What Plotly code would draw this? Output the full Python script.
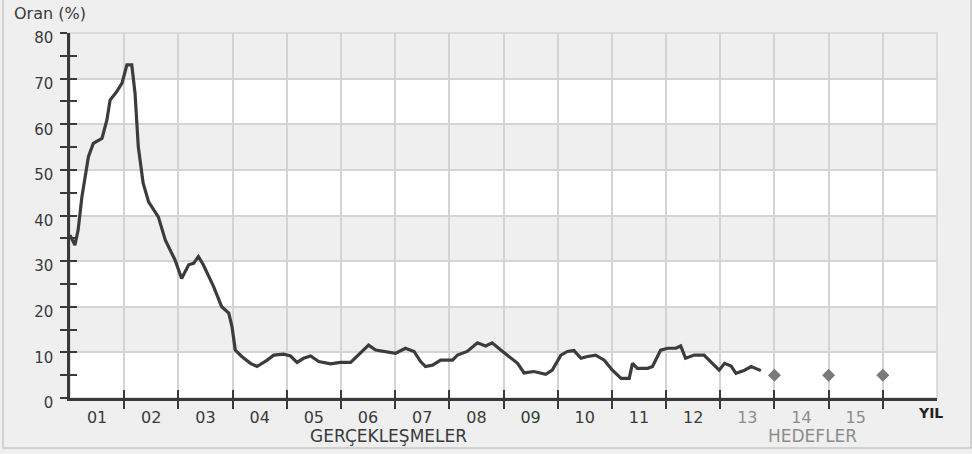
import plotly.graph_objects as go

# Realised annual inflation (decimal year, %)
years = [2001.00, 2001.09, 2001.15, 2001.22, 2001.28, 2001.34, 2001.43, 2001.59, 2001.68, 2001.74,
         2001.86, 2001.96, 2002.05, 2002.14, 2002.20, 2002.26, 2002.35, 2002.45, 2002.63, 2002.76,
         2002.94, 2003.06, 2003.19, 2003.28, 2003.37, 2003.46, 2003.65, 2003.80, 2003.93, 2003.99,
         2004.05, 2004.17, 2004.33, 2004.45, 2004.64, 2004.76, 2004.94, 2005.07, 2005.19, 2005.31,
         2005.44, 2005.59, 2005.81, 2005.99, 2006.18, 2006.36, 2006.51, 2006.64, 2006.79, 2007.01,
         2007.19, 2007.35, 2007.47, 2007.56, 2007.69, 2007.84, 2008.06, 2008.15, 2008.33, 2008.52,
         2008.67, 2008.79, 2008.95, 2009.13, 2009.26, 2009.38, 2009.56, 2009.78, 2009.90, 2010.06,
         2010.18, 2010.30, 2010.43, 2010.55, 2010.70, 2010.86, 2011.01, 2011.17, 2011.32, 2011.38,
         2011.47, 2011.66, 2011.75, 2011.90, 2012.03, 2012.18, 2012.27, 2012.36, 2012.52, 2012.70,
         2012.86, 2012.98, 2013.08, 2013.20, 2013.29, 2013.45, 2013.57, 2013.75]
rates = [35.7, 33.5, 36.8, 44.1, 48.5, 52.9, 55.8, 56.9, 60.9, 65.3,
         67.1, 69.0, 73.0, 73.0, 66.8, 55.1, 47.1, 43.0, 39.7, 34.6,
         30.2, 26.2, 29.2, 29.5, 31.0, 29.2, 24.4, 20.0, 18.6, 15.6,
         10.5, 9.1, 7.6, 6.9, 8.3, 9.4, 9.6, 9.2, 7.8, 8.7,
         9.2, 8.0, 7.5, 7.8, 7.8, 9.8, 11.6, 10.5, 10.2, 9.8,
         10.9, 10.2, 8.0, 6.9, 7.2, 8.3, 8.3, 9.4, 10.2, 12.1,
         11.4, 12.1, 10.5, 8.7, 7.6, 5.5, 5.8, 5.2, 6.1, 9.4,
         10.2, 10.4, 8.7, 9.1, 9.4, 8.3, 6.1, 4.3, 4.3, 7.6,
         6.5, 6.5, 6.9, 10.5, 10.9, 10.9, 11.4, 8.7, 9.4, 9.4,
         7.6, 6.1, 7.6, 7.0, 5.4, 6.1, 6.9, 6.0]

# Year-end targets
target_years = [2014.0, 2015.0, 2016.0]
target_rates = [5.0, 5.0, 5.0]

# Axis labels
year_labels = ["01", "02", "03", "04", "05", "06", "07", "08", "09", "10", "11", "12", "13", "14", "15"]
target_labels = ["13", "14", "15"]
y_ticks = [0, 10, 20, 30, 40, 50, 60, 70, 80]

FONT = "DejaVu Sans"
DARK = "#3a3a3a"
GRAY_TXT = "#8c8c8c"
GRID = "#d4d4d4"

fig = go.Figure()
fig.add_trace(go.Scatter(x=years, y=rates, mode="lines",
                         line=dict(color="#3c3c3c", width=3.2), hoverinfo="skip"))
fig.add_trace(go.Scatter(x=target_years, y=target_rates, mode="markers",
                         marker=dict(symbol="diamond", size=10, color="#7a7a7a"), hoverinfo="skip"))

x0 = 2001
x1 = x0 + len(year_labels) + 1          # one extra column holds the "YIL" label
bounds = [x0 + i for i in range(1, len(year_labels) + 1)]
mids = [x0 + i + 0.5 for i in range(len(year_labels))]
ticktext = [f'<span style="color:{GRAY_TXT}">{l}</span>' if l in target_labels else l for l in year_labels]

# alternating background bands
for i, lo in enumerate(y_ticks[:-1]):
    if i % 2 == 1:
        fig.add_shape(type="rect", xref="paper", yref="y", x0=0, x1=1, y0=lo, y1=y_ticks[i + 1],
                      fillcolor="#efefef", line_width=0, layer="below")

# outer frame
fig.add_shape(type="rect", xref="paper", yref="paper", x0=-0.0773, x1=1.0392, y0=-0.137, y1=1.104,
              line=dict(color="#c8c8c8", width=1.5), fillcolor="rgba(0,0,0,0)", layer="below")

fig.update_layout(
    width=972, height=454,
    margin=dict(l=70, r=35, t=33, b=56),
    paper_bgcolor="#efefef", plot_bgcolor="#ffffff",
    showlegend=False,
    font=dict(family=FONT, color=DARK, size=15),
    xaxis=dict(range=[x0, x1], tickmode="array", tickvals=bounds, showticklabels=False,
               ticks="outside", ticklen=8, tickwidth=2, tickcolor=DARK,
               showgrid=True, gridcolor=GRID, gridwidth=1.6,
               showline=True, linecolor=DARK, linewidth=2.5, zeroline=False, fixedrange=True),
    xaxis2=dict(overlaying="x", range=[x0, x1], tickmode="array", tickvals=bounds,
                showticklabels=False, ticks="inside", ticklen=8, tickwidth=2, tickcolor=DARK,
                showgrid=False, zeroline=False, showline=False, side="bottom", anchor="y"),
    xaxis3=dict(overlaying="x", range=[x0, x1], tickmode="array", tickvals=mids, ticktext=ticktext,
                ticks="", showgrid=False, zeroline=False, showline=False, side="bottom", anchor="y",
                tickfont=dict(family=FONT, size=16, color=DARK), ticklabelstandoff=8),
    yaxis=dict(range=[0, 80], tickmode="array", tickvals=y_ticks, ticks="outside", ticklen=7,
               tickwidth=2, tickcolor=DARK, showgrid=True, gridcolor=GRID, gridwidth=1.6,
               showline=True, linecolor=DARK, linewidth=2.5, zeroline=False,
               tickfont=dict(family=FONT, size=15, color=DARK), ticklabelshift=5,
               ticklabelstandoff=4,
               minor=dict(dtick=5, tick0=0, ticks="outside", ticklen=7, tickwidth=2,
                          tickcolor=DARK, showgrid=False)),
    yaxis2=dict(overlaying="y", range=[0, 80], dtick=5, tick0=0, ticks="inside", ticklen=7,
                tickwidth=2, tickcolor=DARK, showticklabels=False, showgrid=False,
                zeroline=False, showline=False, side="left", anchor="x"),
)
# invisible traces to activate overlay axes
fig.add_trace(go.Scatter(x=[x0], y=[0], xaxis="x2", yaxis="y2", mode="markers",
                         marker=dict(opacity=0), hoverinfo="skip"))
fig.add_trace(go.Scatter(x=[x0], y=[0], xaxis="x3", yaxis="y", mode="markers",
                         marker=dict(opacity=0), hoverinfo="skip"))

# right/top border of plot area
fig.add_shape(type="rect", xref="paper", yref="paper", x0=0, x1=1, y0=0, y1=1,
              line=dict(color=GRID, width=1.6), fillcolor="rgba(0,0,0,0)", layer="below")

fig.add_annotation(text="Oran (%)", xref="paper", yref="paper", x=-0.067, y=1.053,
                   xanchor="left", yanchor="middle", showarrow=False,
                   font=dict(family=FONT, size=16, color=DARK))
fig.add_annotation(text="<b>YIL</b>", xref="paper", yref="paper", x=0.993, y=-0.04,
                   xanchor="center", yanchor="middle", showarrow=False,
                   font=dict(family=FONT, size=14, color="#222222"))
fig.add_annotation(text="GERÇEKLEŞMELER", xref="paper", yref="paper", x=0.367, y=-0.104,
                   xanchor="center", yanchor="middle", showarrow=False,
                   font=dict(family=FONT, size=17, color=DARK))
fig.add_annotation(text="HEDEFLER", xref="paper", yref="paper", x=0.856, y=-0.104,
                   xanchor="center", yanchor="middle", showarrow=False,
                   font=dict(family=FONT, size=17, color=GRAY_TXT))

fig.write_html("out.html", config={"displayModeBar": False},
               post_script="document.body.style.margin='0';document.body.style.background='#efefef';")
